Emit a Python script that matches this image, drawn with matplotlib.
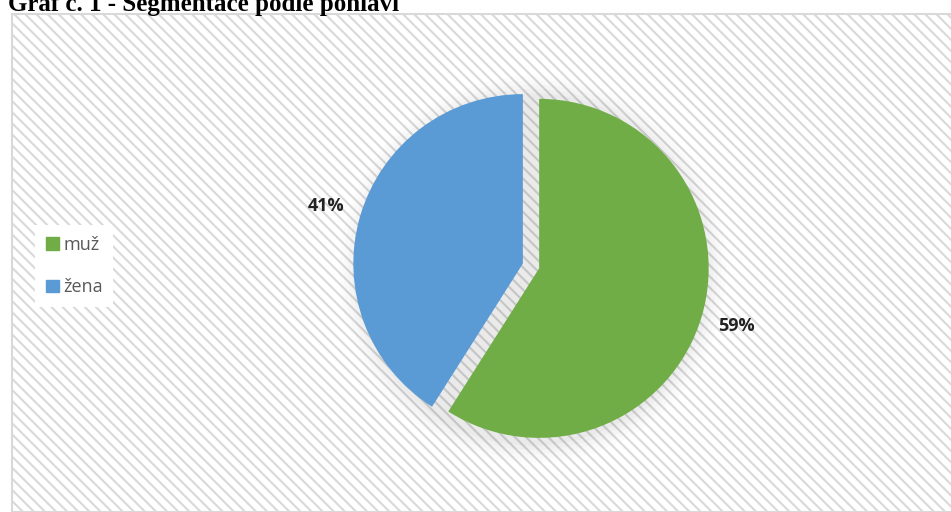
import matplotlib.pyplot as plt
from matplotlib.patches import Rectangle, Circle

# segmentace podle pohlavi
labels = ['muž', 'žena']
shares = [59, 41]
colors = ['#70ad47', '#5b9bd5']

plt.rcParams['hatch.linewidth'] = 1.5
plt.rcParams['hatch.color'] = '#f5f5f5'

W, H = 951, 512
fig = plt.figure(figsize=(W / 100, H / 100), dpi=100)
fig.patch.set_facecolor('white')

# chart area with hatched backdrop and grey frame
frame = Rectangle((12 / W, 0), 1.0, 1 - 14 / H, transform=fig.transFigure,
                  facecolor='white', edgecolor='#d9d9d9', linewidth=1.5,
                  hatch='\\\\\\', zorder=-5)
fig.patches.append(frame)

fig.text(8 / W, 1 - 11 / H, 'Graf č. 1 - Segmentace podle pohlaví',
         family='Liberation Serif', weight='bold', fontsize=18,
         va='baseline', ha='left')

# pie axes: center ~ (531, 266) px, radius ~163 px
r = 163
cx, cy = 531, 266
ax = fig.add_axes([(cx - 1.3 * r) / W, (H - cy - 1.3 * r) / H, 2.6 * r / W, 2.6 * r / H])
ax.set_zorder(2)
ax.set_xlim(-1.3, 1.3)
ax.set_ylim(-1.3, 1.3)
ax.set_aspect('equal')
ax.axis('off')

# soft shadow around the pie
for i, a in enumerate([0.01, 0.012, 0.015, 0.018, 0.022]):
    ax.add_patch(Circle((0.01, -0.02), 1.14 - i * 0.025, color='black',
                        alpha=a, lw=0, zorder=0))

wedges, texts, autotexts = ax.pie(
    shares, colors=colors, startangle=90, counterclock=False,
    explode=[0.05, 0.05], autopct=lambda p: f'{p:.0f}%', pctdistance=1.21,
    wedgeprops=dict(edgecolor='none'),
    textprops=dict(fontsize=13, weight='bold', color='#222222', family='Open Sans'),
    frame=False)
for w in wedges:
    w.set_zorder(2)

# legend on the left
handles = [Rectangle((0, 0), 1, 1, color=c) for c in colors]
leg = fig.legend(handles, labels, loc='center left', bbox_to_anchor=(26 / W, 1 - 266 / H),
                 frameon=True, facecolor='white', edgecolor='none', framealpha=1,
                 handlelength=0.7, handleheight=0.7, handletextpad=0.25,
                 labelspacing=1.35, borderpad=0.6, fancybox=False,
                 prop=dict(family='Open Sans', size=13))
for t in leg.get_texts():
    t.set_color('#595959')

fig.savefig('out.png', dpi=100)
